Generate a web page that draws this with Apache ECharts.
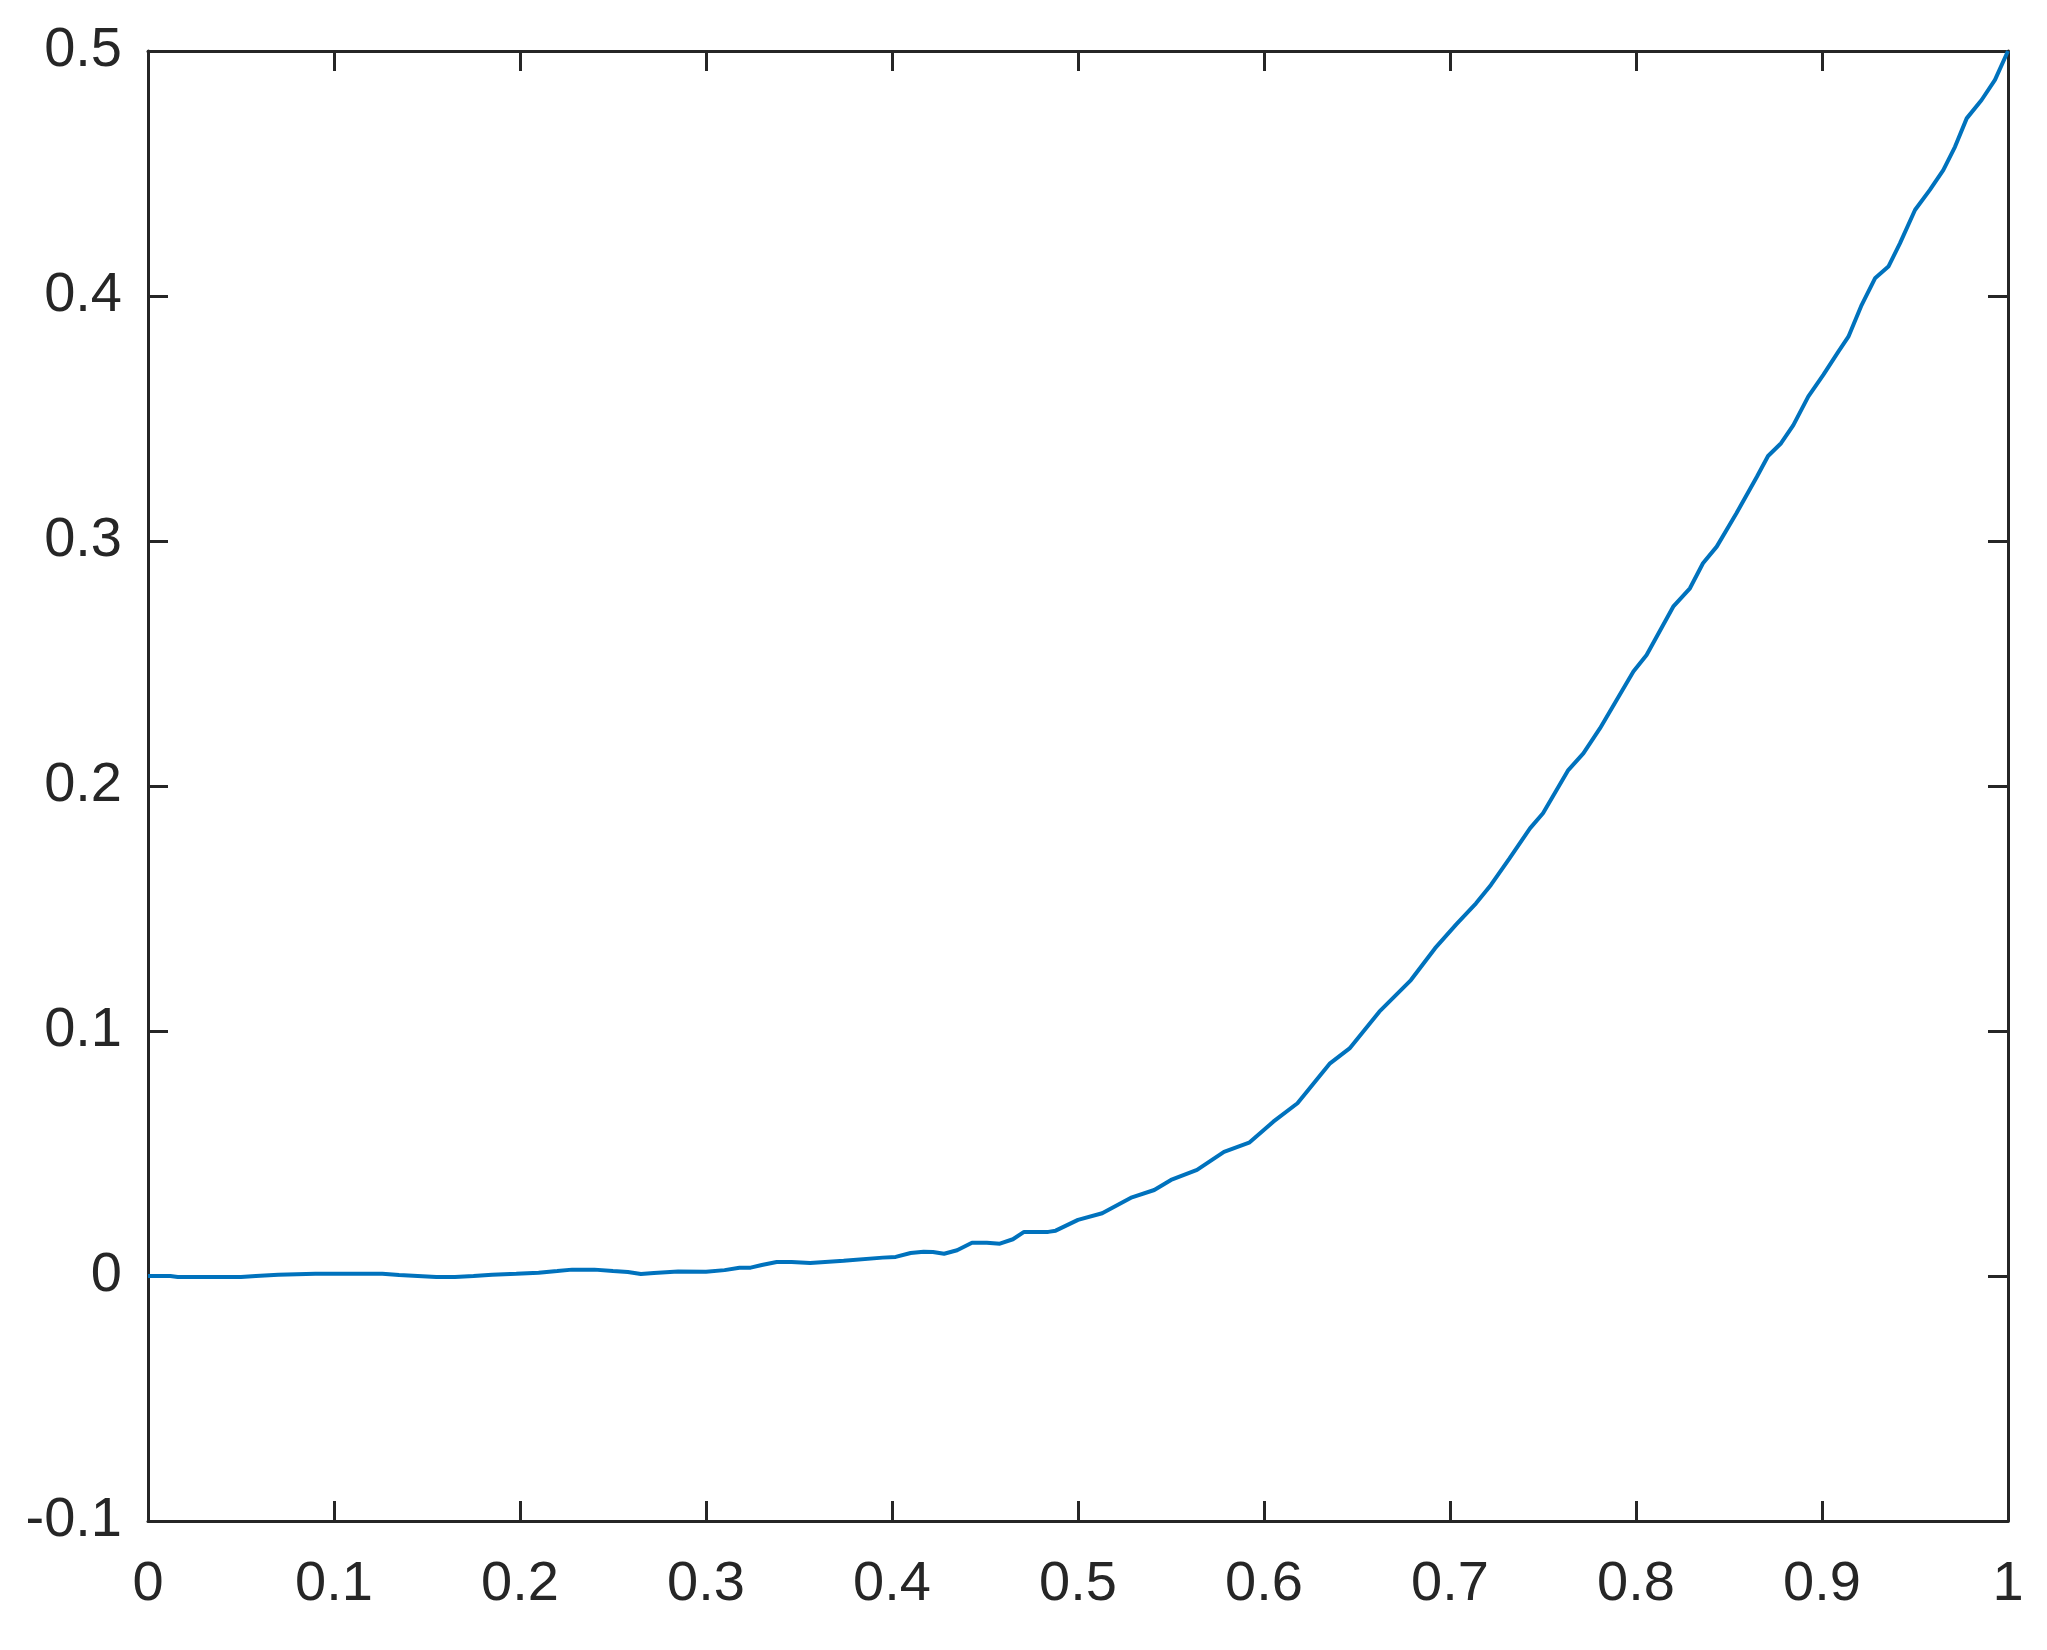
<!DOCTYPE html>
<html>
<head>
<meta charset="utf-8">
<style>
  html, body { margin: 0; padding: 0; background: #ffffff; }
  #chart { width: 2047px; height: 1650px; }
</style>
<script src="https://cdn.jsdelivr.net/npm/echarts@6/dist/echarts.min.js"></script>
</head>
<body>
<div id="chart"></div>
<script>
const xValues = [
  0, 0.012, 0.016, 0.05, 0.058, 0.07, 0.09, 0.126, 0.135, 0.145, 0.155, 0.165, 0.175, 0.185, 0.198,
  0.21, 0.22, 0.228, 0.24, 0.25, 0.258, 0.265, 0.272, 0.285, 0.30, 0.31, 0.318, 0.324, 0.33, 0.338,
  0.346, 0.356, 0.374, 0.395, 0.402, 0.41, 0.417, 0.422, 0.428, 0.435, 0.443, 0.451, 0.458, 0.465,
  0.471, 0.484, 0.488, 0.5, 0.513, 0.529, 0.541, 0.55, 0.564, 0.5785, 0.592, 0.605, 0.618, 0.6355,
  0.646, 0.662, 0.679, 0.692, 0.7036, 0.714, 0.722, 0.732, 0.743, 0.75, 0.7636, 0.7717, 0.7806,
  0.7986, 0.8057, 0.82, 0.829, 0.836, 0.8434, 0.854, 0.865, 0.871, 0.878, 0.8846, 0.8926, 0.9007,
  0.9088, 0.9142, 0.9213, 0.9285, 0.9357, 0.9419, 0.95, 0.958, 0.9652, 0.9715, 0.9778, 0.9858,
  0.993, 1.0
];
const yValues = [
  0, 0, -0.0004, -0.0004, 0, 0.0005, 0.0009, 0.0009, 0.0004, 0, -0.0004, -0.0004, 0, 0.0005, 0.0009,
  0.0013, 0.002, 0.0026, 0.0026, 0.002, 0.0016, 0.0008, 0.0012, 0.0018, 0.0017, 0.0024, 0.0034, 0.0034, 0.0045, 0.0057,
  0.0057, 0.0053, 0.0062, 0.0075, 0.0078, 0.0094, 0.0099, 0.0098, 0.0091, 0.0105, 0.0136, 0.0136, 0.0132, 0.015,
  0.018, 0.018, 0.0185, 0.0229, 0.0256, 0.0321, 0.0351, 0.0392, 0.0433, 0.0507, 0.0544, 0.063, 0.0705, 0.0868,
  0.0929, 0.1079, 0.1208, 0.1338, 0.1437, 0.1521, 0.1596, 0.1705, 0.1827, 0.1889, 0.2065, 0.2133, 0.2235,
  0.2467, 0.2535, 0.2732, 0.2807, 0.2909, 0.2977, 0.3113, 0.3262, 0.3347, 0.3399, 0.3473, 0.3589, 0.3678,
  0.3773, 0.3834, 0.3963, 0.4072, 0.412, 0.4215, 0.4351, 0.4433, 0.4514, 0.4609, 0.4725, 0.48,
  0.4882, 0.5
];
const xTickLabels = ['0', '0.1', '0.2', '0.3', '0.4', '0.5', '0.6', '0.7', '0.8', '0.9', '1'];
const yTickLabels = ['-0.1', '0', '0.1', '0.2', '0.3', '0.4', '0.5'];

const xMin = 0, xMax = 1, xStep = 0.1;
const yMin = -0.1, yMax = 0.5, yStep = 0.1;

const axisColor = '#262626';
const fontFamily = '"Liberation Sans", Arial, Helvetica, sans-serif';

const seriesData = xValues.map((x, i) => [x, yValues[i]]);

function labelFor(list, min, step) {
  return function (v) {
    const idx = Math.round((v - min) / step);
    return list[idx] !== undefined ? list[idx] : '';
  };
}

const lineStyleAxis = { color: axisColor, width: 3 };
const tickStyle = { show: true, inside: true, length: 20, lineStyle: { color: axisColor, width: 3 } };

const chart = echarts.init(document.getElementById('chart'), null, { renderer: 'canvas' });
chart.setOption({
  animation: false,
  backgroundColor: '#ffffff',
  grid: { left: 148, right: 39, top: 51, bottom: 129, containLabel: false },
  xAxis: [
    {
      type: 'value', min: xMin, max: xMax, interval: xStep, position: 'bottom',
      axisLine: { show: true, onZero: false, lineStyle: lineStyleAxis },
      axisTick: tickStyle,
      splitLine: { show: false },
      axisLabel: {
        show: true, margin: 36, color: axisColor, fontSize: 56, fontFamily: fontFamily,
        formatter: labelFor(xTickLabels, xMin, xStep)
      }
    },
    {
      type: 'value', min: xMin, max: xMax, interval: xStep, position: 'top',
      axisLine: { show: true, onZero: false, lineStyle: lineStyleAxis },
      axisTick: tickStyle,
      splitLine: { show: false },
      axisLabel: { show: false }
    }
  ],
  yAxis: [
    {
      type: 'value', min: yMin, max: yMax, interval: yStep, position: 'left',
      axisLine: { show: true, onZero: false, lineStyle: lineStyleAxis },
      axisTick: tickStyle,
      splitLine: { show: false },
      axisLabel: {
        show: true, margin: 26, color: axisColor, fontSize: 56, fontFamily: fontFamily,
        formatter: labelFor(yTickLabels, yMin, yStep)
      }
    },
    {
      type: 'value', min: yMin, max: yMax, interval: yStep, position: 'right',
      axisLine: { show: true, onZero: false, lineStyle: lineStyleAxis },
      axisTick: tickStyle,
      splitLine: { show: false },
      axisLabel: { show: false }
    }
  ],
  series: [
    {
      type: 'line',
      xAxisIndex: 0,
      yAxisIndex: 0,
      data: seriesData,
      showSymbol: false,
      symbol: 'none',
      smooth: false,
      clip: false,
      lineStyle: { color: '#0072BD', width: 4 },
      z: 1
    }
  ]
});
</script>
</body>
</html>
